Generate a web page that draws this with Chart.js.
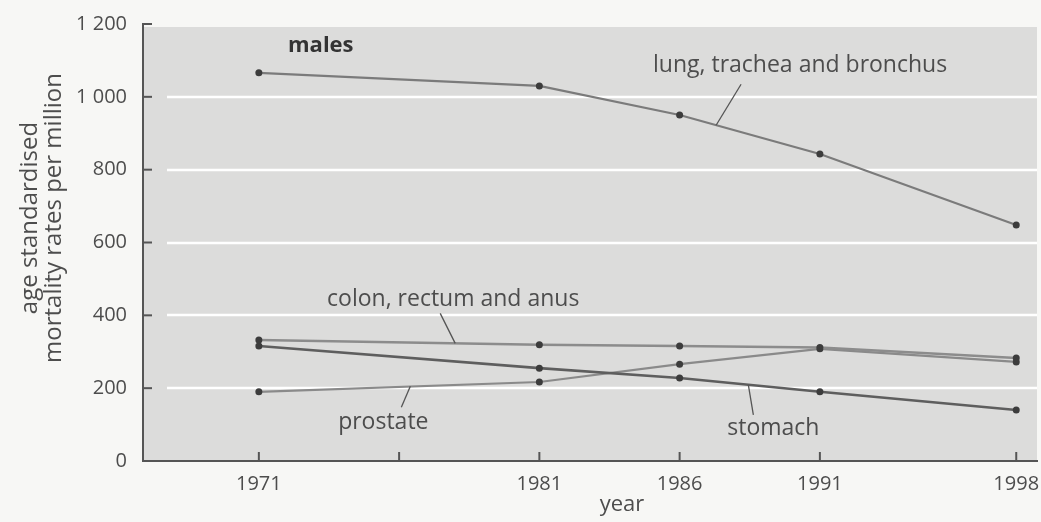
<!DOCTYPE html>
<html>
<head>
<meta charset="utf-8">
<script src="https://cdn.jsdelivr.net/npm/chart.js@4"></script>
<style>
  html, body { margin: 0; padding: 0; background: #f7f7f5; }
  #wrap { width: 1041px; height: 522px; }
</style>
</head>
<body>
<div id="wrap"><canvas id="chart" width="1041" height="522"></canvas></div>
<script>
// ---- data ----
const years = [1971, 1981, 1986, 1991, 1998];
const lung = [1066, 1030, 950, 843, 648];
const colon = [332, 319, 316, 312, 283];
const stomach = [316, 255, 228, 190, 140];
const prostate = [190, 217, 266, 308, 272];

const xTickYears = [1971, 1976, 1981, 1986, 1991, 1998];
const unlabelledYears = [1976];
const yTicks = [0, 200, 400, 600, 800, 1000, 1200];
const gridValues = [200, 400, 600, 800, 1000];

const yTitle = ['age standardised', 'mortality rates per million'];
const xTitle = 'year';

// series labels: anchor on the line (year, value), leader end + text offset in px
const seriesNotes = [
  { text: 'lung, trachea and bronchus', year: 1987.3, value: 922, lx: 25, ly: -41, tx: 84, ty: -60 },
  { text: 'colon, rectum and anus', year: 1978, value: 323, lx: -15, ly: -30, tx: -2, ty: -44 },
  { text: 'prostate', year: 1976.4, value: 205, lx: -9, ly: 21, tx: -27, ty: 36 },
  { text: 'stomach', year: 1988.45, value: 209, lx: 5, ly: 30, tx: 25, ty: 44 }
];

const FONT = '"Open Sans", "Noto Sans", sans-serif';
const INK = '#4d4d4d';

const toPoints = vals => vals.map((v, i) => ({ x: years[i], y: v }));
const fmtThousands = v => String(v).replace(/\B(?=(\d{3})+(?!\d))/g, ' ');

const backdrop = {
  id: 'backdrop',
  beforeDraw(chart) {
    const { ctx, chartArea: a, scales: { y } } = chart;
    ctx.save();
    ctx.fillStyle = '#f7f7f5';
    ctx.fillRect(0, 0, chart.width, chart.height);
    ctx.fillStyle = '#dcdcdb';
    ctx.fillRect(a.left, a.top + 3, a.right - a.left, a.bottom - a.top - 3);
    // white grid lines
    ctx.strokeStyle = '#ffffff';
    ctx.lineWidth = 2.5;
    gridValues.forEach(v => {
      const py = Math.round(y.getPixelForValue(v));
      ctx.beginPath();
      ctx.moveTo(a.left + 24, py);
      ctx.lineTo(a.right, py);
      ctx.stroke();
    });
    ctx.restore();
  },
  afterDraw(chart) {
    const { ctx, chartArea: a, scales: { x, y } } = chart;
    ctx.save();
    ctx.strokeStyle = '#555';
    ctx.lineWidth = 2;
    // inward tick marks
    yTicks.forEach(v => {
      const py = y.getPixelForValue(v);
      ctx.beginPath();
      ctx.moveTo(a.left, py);
      ctx.lineTo(a.left + 9, py);
      ctx.stroke();
    });
    xTickYears.forEach(v => {
      const px = x.getPixelForValue(v);
      ctx.beginPath();
      ctx.moveTo(px, a.bottom);
      ctx.lineTo(px, a.bottom - 9);
      ctx.stroke();
    });

    // axis titles
    ctx.fillStyle = INK;
    ctx.textAlign = 'center';
    ctx.textBaseline = 'middle';
    ctx.font = '24px ' + FONT;
    ctx.save();
    ctx.translate(0, 218);
    ctx.rotate(-Math.PI / 2);
    yTitle.forEach((t, i) => ctx.fillText(t, 0, 30 + i * 24));
    ctx.restore();
    ctx.font = '22px ' + FONT;
    ctx.fillText(xTitle, 622, 505);

    // series labels with leader lines
    ctx.lineWidth = 1.3;
    ctx.strokeStyle = '#555';
    ctx.font = '23px ' + FONT;
    seriesNotes.forEach(n => {
      const px = x.getPixelForValue(n.year);
      const py = y.getPixelForValue(n.value);
      ctx.beginPath();
      ctx.moveTo(px, py);
      ctx.lineTo(px + n.lx, py + n.ly);
      ctx.stroke();
      ctx.fillText(n.text, px + n.tx, py + n.ty);
    });

    // panel title
    ctx.font = 'bold 22px ' + FONT;
    ctx.textAlign = 'left';
    ctx.fillStyle = '#333';
    ctx.fillText('males', a.left + 145, a.top + 22);
    ctx.restore();
  }
};

const lineStyle = (color, width) => ({
  borderColor: color,
  borderWidth: width,
  pointRadius: 3.5,
  pointBackgroundColor: '#3c3c3c',
  pointBorderWidth: 0,
  tension: 0,
  fill: false
});

new Chart(document.getElementById('chart'), {
  type: 'line',
  data: {
    datasets: [
      { label: 'lung, trachea and bronchus', data: toPoints(lung), ...lineStyle('#7b7b7b', 2.2) },
      { label: 'colon, rectum and anus', data: toPoints(colon), ...lineStyle('#8c8c8c', 2.5) },
      { label: 'stomach', data: toPoints(stomach), ...lineStyle('#5e5e5e', 2.6) },
      { label: 'prostate', data: toPoints(prostate), ...lineStyle('#8a8a8a', 2.2) }
    ]
  },
  options: {
    responsive: false,
    animation: false,
    layout: { padding: { top: 24, right: 0, bottom: 0, left: 0 } },
    plugins: {
      legend: { display: false },
      tooltip: { enabled: false }
    },
    scales: {
      x: {
        type: 'linear',
        min: 1966.87,
        max: 1998.74,
        afterBuildTicks: s => { s.ticks = xTickYears.map(v => ({ value: v })); },
        afterFit: s => { s.height = 61; s.paddingLeft = 0; s.paddingRight = 0; },
        grid: { drawOnChartArea: false, drawTicks: false },
        border: { display: true, color: '#555', width: 2 },
        ticks: {
          autoSkip: false,
          maxRotation: 0,
          padding: 11,
          color: INK,
          font: { family: FONT, size: 20 },
          callback: v => unlabelledYears.includes(v) ? '' : String(v)
        }
      },
      y: {
        min: 0,
        max: 1200,
        afterBuildTicks: s => { s.ticks = yTicks.map(v => ({ value: v })); },
        afterFit: s => { s.width = 143; s.paddingTop = 0; s.paddingBottom = 0; },
        grid: { drawOnChartArea: false, drawTicks: false },
        border: { display: true, color: '#555', width: 2 },
        ticks: {
          padding: 16,
          color: INK,
          font: { family: FONT, size: 20 },
          callback: v => fmtThousands(v)
        }
      }
    }
  },
  plugins: [backdrop]
});
</script>
</body>
</html>
